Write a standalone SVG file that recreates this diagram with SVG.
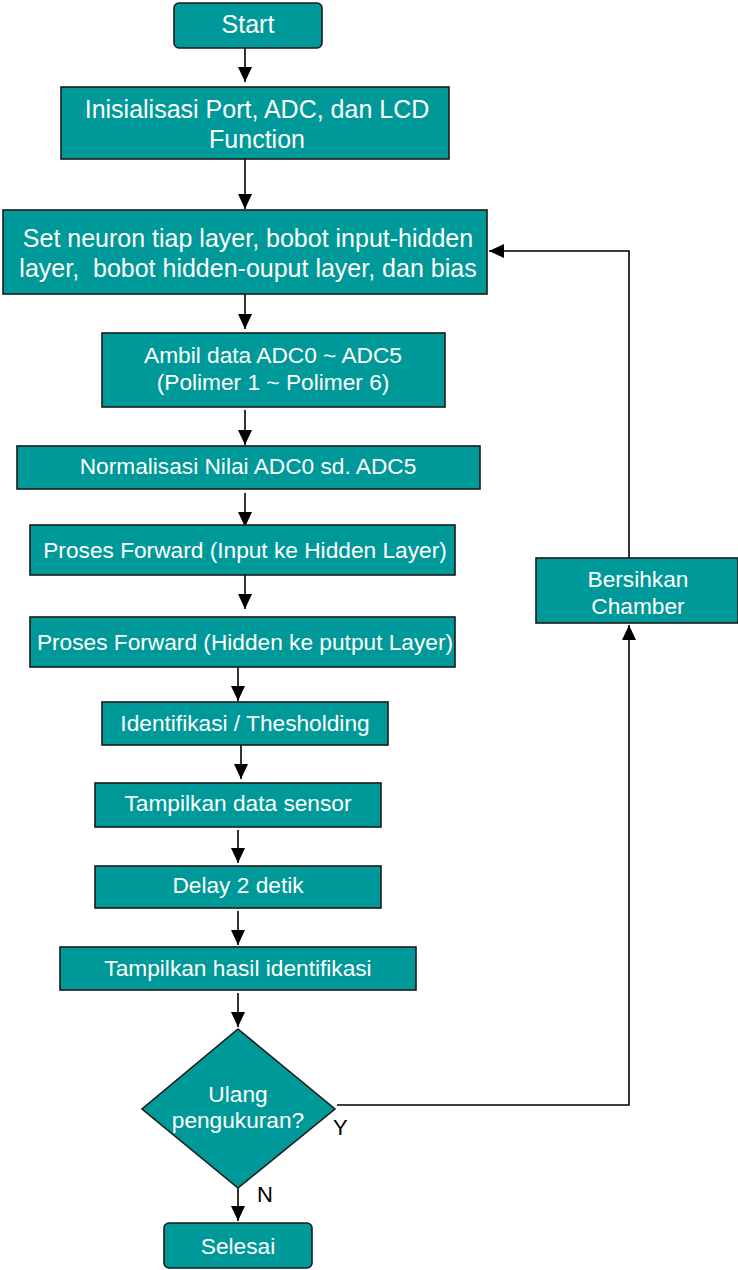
<svg xmlns="http://www.w3.org/2000/svg" width="738" height="1270" viewBox="0 0 738 1270">
<style>
.n{fill:#009999;stroke:#1a1a1a;stroke-width:1.6}
.t{fill:#ffffff;font-family:"Liberation Sans",Arial,sans-serif;text-anchor:middle;font-size:22.7px}
.b{font-size:25px}
.c{fill:none;stroke:#000;stroke-width:1.6}
.l{fill:#000;font-family:"Liberation Sans",Arial,sans-serif;font-size:22px}
</style>
<defs>
<marker id="ah" markerUnits="userSpaceOnUse" markerWidth="15" markerHeight="15" refX="15" refY="7" orient="auto">
<path d="M0,0 L15,7 L0,14 z" fill="#000"/>
</marker>
</defs>
<rect width="738" height="1270" fill="#fff"/>
<g id="connectors">
<line class="c" x1="245" y1="48" x2="245" y2="82" marker-end="url(#ah)"/>
<line class="c" x1="245" y1="159" x2="245" y2="209" marker-end="url(#ah)"/>
<line class="c" x1="245" y1="294" x2="245" y2="329" marker-end="url(#ah)"/>
<line class="c" x1="245" y1="410" x2="245" y2="445" marker-end="url(#ah)"/>
<line class="c" x1="245" y1="493" x2="245" y2="527" marker-end="url(#ah)"/>
<line class="c" x1="245" y1="575" x2="245" y2="609" marker-end="url(#ah)"/>
<line class="c" x1="238" y1="667" x2="238" y2="701" marker-end="url(#ah)"/>
<line class="c" x1="241" y1="745" x2="241" y2="779" marker-end="url(#ah)"/>
<line class="c" x1="238" y1="830" x2="238" y2="863" marker-end="url(#ah)"/>
<line class="c" x1="238" y1="911" x2="238" y2="945" marker-end="url(#ah)"/>
<line class="c" x1="238" y1="993" x2="238" y2="1027" marker-end="url(#ah)"/>
<line class="c" x1="238" y1="1188" x2="238" y2="1221" marker-end="url(#ah)"/>
<polyline class="c" points="337,1105 629,1105 629,625" marker-end="url(#ah)"/>
<polyline class="c" points="629,558 629,251 489,251" marker-end="url(#ah)"/>
</g>
<g id="start">
<rect class="n" x="174" y="3" width="148" height="45" rx="5"/>
<text class="t b" x="248" y="33">Start</text>
</g>
<g id="init">
<rect class="n" x="61" y="87" width="388" height="72"/>
<text class="t b" x="257" y="118">Inisialisasi Port, ADC, dan LCD</text>
<text class="t b" x="257" y="148">Function</text>
</g>
<g id="setneuron">
<rect class="n" x="3" y="210" width="484" height="84"/>
<text class="t b" x="248" y="247">Set neuron tiap layer, bobot input-hidden</text>
<text class="t b" x="248" y="277" xml:space="preserve">layer,  bobot hidden-ouput layer, dan bias</text>
</g>
<g id="ambil">
<rect class="n" x="102" y="333" width="343" height="74"/>
<text class="t" x="273" y="363">Ambil data ADC0 ~ ADC5</text>
<text class="t" x="273" y="390">(Polimer 1 ~ Polimer 6)</text>
</g>
<g id="normalisasi">
<rect class="n" x="17" y="446" width="463" height="43"/>
<text class="t" x="248" y="474">Normalisasi Nilai ADC0 sd. ADC5</text>
</g>
<g id="forward1">
<rect class="n" x="30" y="525" width="425" height="50"/>
<text class="t" x="245" y="558">Proses Forward (Input ke Hidden Layer)</text>
</g>
<g id="forward2">
<rect class="n" x="30" y="617" width="425" height="50"/>
<text class="t" x="245" y="650">Proses Forward (Hidden ke putput Layer)</text>
</g>
<g id="identifikasi">
<rect class="n" x="102" y="702" width="286" height="43"/>
<text class="t" x="245" y="731">Identifikasi / Thesholding</text>
</g>
<g id="tampil-sensor">
<rect class="n" x="95" y="783" width="286" height="44"/>
<text class="t" x="238" y="811">Tampilkan data sensor</text>
</g>
<g id="delay">
<rect class="n" x="95" y="866" width="286" height="42"/>
<text class="t" x="238" y="893">Delay 2 detik</text>
</g>
<g id="tampil-hasil">
<rect class="n" x="60" y="947" width="356" height="43"/>
<text class="t" x="238" y="976">Tampilkan hasil identifikasi</text>
</g>
<g id="ulang">
<polygon class="n" points="238,1029 335,1109 238,1188 142,1109"/>
<text class="t" x="238" y="1102">Ulang</text>
<text class="t" x="238" y="1128">pengukuran?</text>
</g>
<g id="selesai">
<rect class="n" x="164" y="1223" width="148" height="45" rx="5"/>
<text class="t" x="238" y="1254">Selesai</text>
</g>
<g id="bersihkan">
<rect class="n" x="536" y="558" width="202" height="65"/>
<text class="t" x="638" y="587">Bersihkan</text>
<text class="t" x="638" y="614">Chamber</text>
</g>
<g id="labels">
<text class="l" x="333" y="1135">Y</text>
<text class="l" x="257" y="1202">N</text>
</g>
</svg>
